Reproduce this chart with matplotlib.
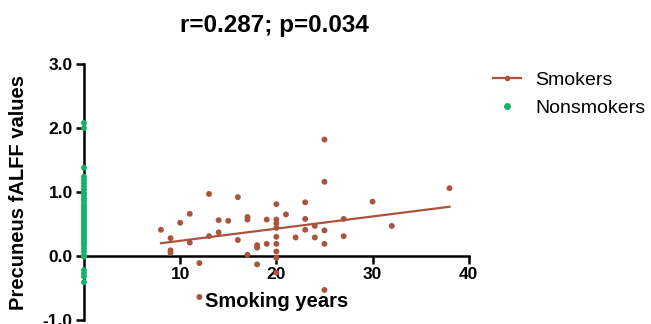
import matplotlib
matplotlib.use("Agg")
import matplotlib.pyplot as plt
from matplotlib.lines import Line2D

plt.rcParams['font.family'] = ['Liberation Sans', 'DejaVu Sans']

# smokers: smoking years vs precuneus fALFF
smoker_years = [8, 9, 9, 9, 10, 11, 11, 12, 12, 13, 13, 14, 14, 15, 16, 16,
                17, 17, 17, 18, 18, 18, 19, 19,
                20, 20, 20, 20, 20, 20, 20, 20, 20,
                21, 22, 23, 23, 23, 24, 24,
                25, 25, 25, 25, 25, 27, 27, 30, 32, 38]
smoker_falff = [0.41, 0.28, 0.09, 0.05, 0.52, 0.66, 0.21, -0.11, -0.64, 0.97, 0.31, 0.56, 0.37, 0.55, 0.92, 0.25,
                0.61, 0.57, 0.02, 0.17, 0.13, -0.13, 0.57, 0.19,
                0.81, 0.57, 0.51, 0.44, 0.30, 0.19, 0.07, -0.03, -0.26,
                0.65, 0.29, 0.84, 0.58, 0.41, 0.47, 0.29,
                1.82, 1.16, 0.40, 0.19, -0.53, 0.58, 0.31, 0.85, 0.47, 1.06]

# regression line end points
fit_x = [8, 38]
fit_y = [0.20, 0.77]

# nonsmokers, all at 0 years
nonsmoker_falff = [2.08, 2.0, 1.38, 1.24, 1.19, 1.14, 1.09, 1.04, 0.99, 0.95, 0.90, 0.86,
                   0.81, 0.77, 0.73, 0.69, 0.65, 0.61, 0.57, 0.53, 0.49, 0.45, 0.41,
                   0.37, 0.33, 0.29, 0.25, 0.21, 0.17, 0.12, 0.07, 0.01, -0.01,
                   -0.22, -0.27, -0.32, -0.41]
nonsmoker_years = [0] * len(nonsmoker_falff)

brown = '#A9553D'
green = '#17B26A'

fig = plt.figure(figsize=(6.51, 3.24), dpi=100)
ax = fig.add_axes([0.129, 0.0123, 0.591, 0.79])

ax.plot(fit_x, fit_y, color=brown, lw=1.6, zorder=2)
ax.scatter(smoker_years, smoker_falff, s=18, color=brown, edgecolors='none', zorder=3, clip_on=False)
ax.scatter(nonsmoker_years, nonsmoker_falff, s=18, color=green, edgecolors='none', zorder=4, clip_on=False)

ax.set_xlim(0, 40)
ax.set_ylim(-1, 3)
ax.spines['top'].set_visible(False)
ax.spines['right'].set_visible(False)
ax.spines['left'].set_position(('data', 0))
ax.spines['bottom'].set_position(('data', 0))
for s in ['left', 'bottom']:
    ax.spines[s].set_linewidth(1.8)
    ax.spines[s].set_zorder(1)

ax.set_xticks([10, 20, 30, 40])
ax.set_yticks([-1, 0, 1, 2, 3])
ax.set_yticklabels(['-1.0', '0.0', '1.0', '2.0', '3.0'])
ax.tick_params(axis='both', length=6, width=1.8, labelsize=12.5, pad=2)
for lab in ax.get_xticklabels() + ax.get_yticklabels():
    lab.set_fontweight('bold')

ax.set_xlabel('Smoking years', fontsize=14.5, fontweight='bold', labelpad=0)
ax.xaxis.set_label_coords(0.5, 0.11)
ax.set_ylabel('Precuneus fALFF values', fontsize=14.5, fontweight='bold')
ax.yaxis.set_label_coords(-0.145, 0.5)

fig.text(0.422, 0.92, 'r=0.287; p=0.034', fontsize=17.5, fontweight='bold', ha='center', va='center')

handles = [Line2D([0], [0], color=brown, lw=1.6, marker='o', ms=3),
           Line2D([0], [0], color=green, lw=0, marker='o', ms=4)]
fig.legend(handles, ['Smokers', 'Nonsmokers'], loc='upper left', bbox_to_anchor=(0.73, 0.835),
           frameon=False, fontsize=14, handlelength=1.45, handletextpad=0.75, labelspacing=0.55)

fig.savefig('out.png', dpi=100)
